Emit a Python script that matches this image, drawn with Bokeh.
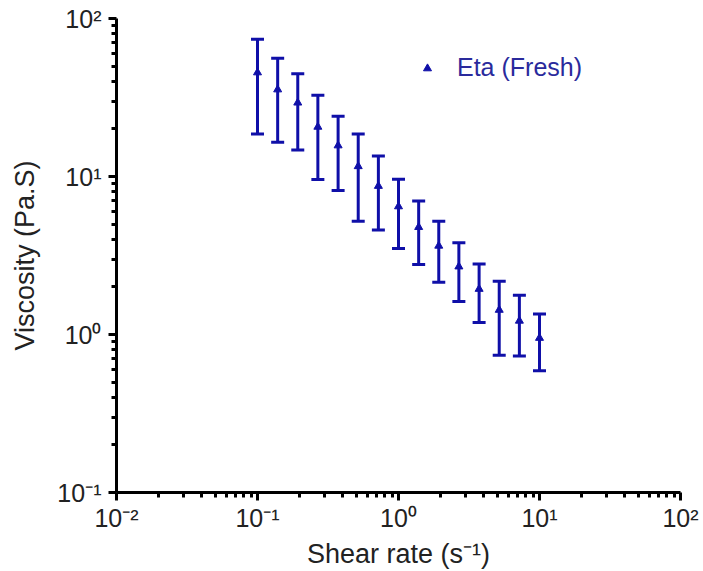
from bokeh.plotting import figure
from bokeh.models import (ColumnDataSource, Whisker, TeeHead, FixedTicker, Legend, LegendItem)
from bokeh.embed import file_html
from bokeh.resources import INLINE

# ---- data ----
shear_rate = [0.1, 0.139, 0.193, 0.268, 0.373, 0.518, 0.72, 1.0, 1.39, 1.93, 2.68, 3.73, 5.18, 7.2, 10.0]
eta_mean = [45.5, 35.5, 29.3, 20.6, 15.7, 11.6, 8.7, 6.46, 4.78, 3.64, 2.69, 1.94, 1.43, 1.22, 0.95]
eta_upper = [73.9, 56.0, 44.7, 32.7, 24.1, 18.6, 13.5, 9.62, 7.01, 5.21, 3.81, 2.79, 2.17, 1.77, 1.35]
eta_lower = [18.6, 16.5, 14.7, 9.58, 8.14, 5.21, 4.58, 3.5, 2.77, 2.14, 1.62, 1.19, 0.74, 0.73, 0.59]

x_ticks = [0.01, 0.1, 1.0, 10.0, 100.0]
x_tick_labels = ["10\u207b\u00b2", "10\u207b\u00b9", "10\u2070", "10\u00b9", "10\u00b2"]
y_ticks = [0.1, 1.0, 10.0, 100.0]
y_tick_labels = ["10\u207b\u00b9", "10\u2070", "10\u00b9", "10\u00b2"]

series_name = "Eta (Fresh)"
x_title = "Shear rate (s\u207b\u00b9)"
y_title = "Viscosity (Pa.S)"

BLUE = "#0F0FA8"
FONT = "Liberation Sans"

src = ColumnDataSource(dict(x=shear_rate, y=eta_mean, up=eta_upper, lo=eta_lower))

p = figure(width=703, height=571, x_axis_type="log", y_axis_type="log",
           x_range=(0.01, 100), y_range=(0.1, 100),
           output_backend="svg", toolbar_location=None,
           min_border_left=116, min_border_right=23, min_border_top=18, min_border_bottom=74)
p.outline_line_color = None
p.xgrid.visible = False
p.ygrid.visible = False
p.background_fill_color = "white"
p.border_fill_color = "white"

def minors(majors):
    out = []
    for m in majors[:-1]:
        for k in range(2, 10):
            out.append(m * k)
    return out

p.xaxis.ticker = FixedTicker(ticks=x_ticks, minor_ticks=minors(x_ticks))
p.yaxis.ticker = FixedTicker(ticks=y_ticks, minor_ticks=minors(y_ticks))
p.xaxis.major_label_overrides = dict(zip(x_ticks, x_tick_labels))
p.yaxis.major_label_overrides = dict(zip(y_ticks, y_tick_labels))

for ax in (p.xaxis[0], p.yaxis[0]):
    ax.axis_line_width = 3
    ax.axis_line_color = "black"
    ax.major_tick_line_width = 3
    ax.minor_tick_line_width = 3
    ax.major_tick_line_color = "black"
    ax.minor_tick_line_color = "black"
    ax.major_tick_out = 8
    ax.major_tick_in = 0
    ax.minor_tick_out = 5
    ax.minor_tick_in = 0
    ax.major_label_text_font = FONT
    ax.major_label_text_font_size = "25px"
    ax.major_label_text_color = "#222222"
    ax.axis_label_text_font = FONT
    ax.axis_label_text_font_size = "27px"
    ax.axis_label_text_font_style = "normal"
    ax.axis_label_text_color = "#222222"

p.xaxis.axis_label = x_title
p.yaxis.axis_label = y_title
p.xaxis.major_label_standoff = 3
p.yaxis.major_label_standoff = 7
p.xaxis.axis_label_standoff = 4
p.yaxis.axis_label_standoff = 14

w = Whisker(source=src, base="x", upper="up", lower="lo",
            line_color=BLUE, line_width=3,
            upper_head=TeeHead(size=13, line_color=BLUE, line_width=3),
            lower_head=TeeHead(size=13, line_color=BLUE, line_width=3))
p.add_layout(w)

r = p.scatter("x", "y", source=src, marker="triangle", size=8, color=BLUE)

legend = Legend(items=[LegendItem(label=series_name, renderers=[r])],
                location=(301, 410), orientation="vertical",
                background_fill_alpha=0, border_line_alpha=0,
                padding=0, margin=0, spacing=0,
                glyph_width=20, glyph_height=24, label_standoff=20,
                label_text_font=FONT, label_text_font_size="25px",
                label_text_color="#2A2A9C")
p.add_layout(legend)

open("out.html", "w").write(file_html(p, INLINE))
